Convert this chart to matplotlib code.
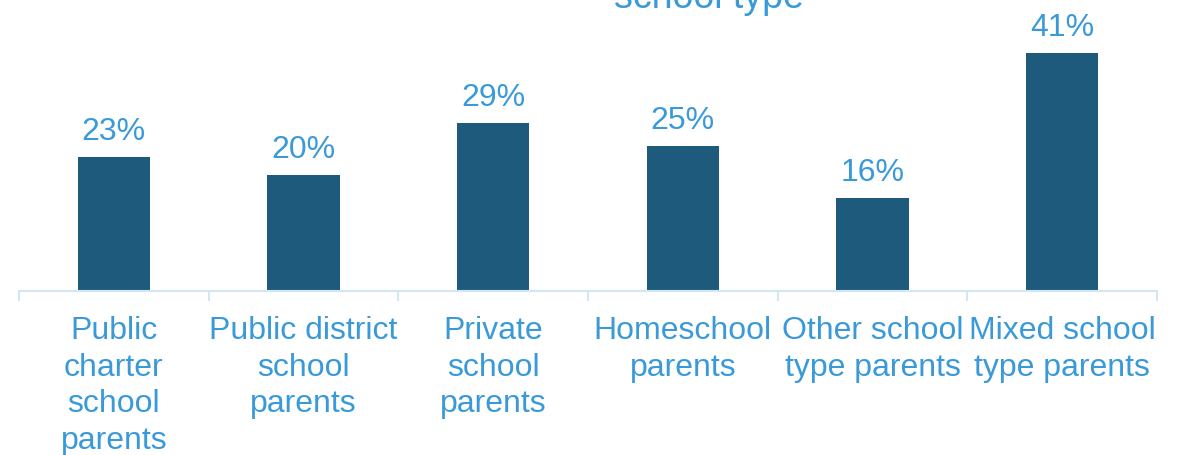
import matplotlib.pyplot as plt

categories = ["Public\ncharter\nschool\nparents", "Public district\nschool\nparents",
              "Private\nschool\nparents", "Homeschool\nparents",
              "Other school\ntype parents", "Mixed school\ntype parents"]
values = [23, 20, 29, 25, 16, 41]
value_labels = ["23%", "20%", "29%", "25%", "16%", "41%"]

bar_color = "#1D5A7B"
text_color = "#3A9AD9"
axis_color = "#D3E6F4"

plt.rcParams['font.family'] = ['Liberation Sans', 'DejaVu Sans']

fig = plt.figure(figsize=(11.83, 4.56), dpi=100)
ax = fig.add_axes([19 / 1183, 1 - 292 / 456, (1157 - 19) / 1183, 292 / 456])

x = list(range(len(values)))
ax.bar(x, values, width=0.38, color=bar_color)
for xi, v, lab in zip(x, values, value_labels):
    ax.annotate(lab, (xi, v), xytext=(0, 8), textcoords="offset points",
                ha="center", va="bottom", fontsize=23, color=text_color)

ax.set_xlim(-0.5, len(values) - 0.5)
ax.set_ylim(0, 50.3)
ax.set_xticks(x)
ax.set_xticklabels(categories, fontsize=23, color=text_color, linespacing=1.3)
ax.set_xticks([i - 0.5 for i in range(len(values) + 1)], minor=True)
ax.tick_params(axis="x", which="major", length=0, pad=17)
ax.tick_params(axis="x", which="minor", length=7, width=1.5, color=axis_color)
ax.set_yticks([])
for s in ["top", "left", "right"]:
    ax.spines[s].set_visible(False)
ax.spines["bottom"].set_color(axis_color)
ax.spines["bottom"].set_linewidth(1.5)

fig.text(709 / 1183, 1 - 8 / 456, "school type", ha="center", va="baseline",
         fontsize=27, color=text_color)

fig.savefig("out.png", dpi=100)
